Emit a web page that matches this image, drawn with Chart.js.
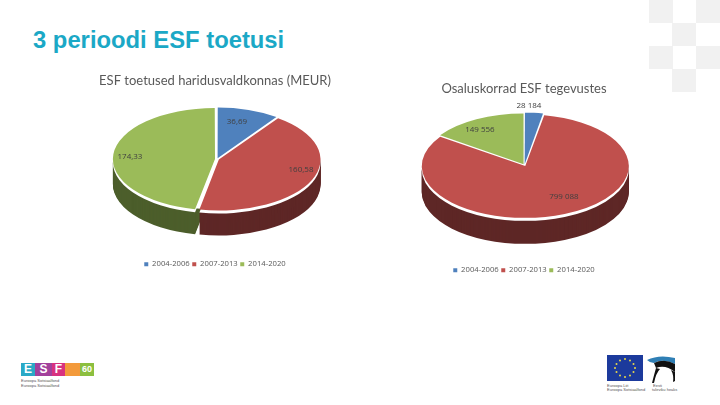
<!DOCTYPE html>
<html>
<head>
<meta charset="utf-8">
<script src="https://cdn.jsdelivr.net/npm/chart.js@4"></script>
<style>
html, body { margin: 0; padding: 0; background: #fff; overflow: hidden; }
#page { position: relative; width: 720px; height: 405px; overflow: hidden; }
#page div, #page canvas, #page svg { position: absolute; }
.sq { background: #f1f1f1; width: 24px; height: 23px; }
#heading { left: 33px; top: 26px; font: bold 23.8px "Liberation Sans", sans-serif; color: #1ba8c6; white-space: nowrap; }
.small { font: 4px "Liberation Sans", sans-serif; color: #555; white-space: nowrap; }
.bar { top: 363px; height: 13px; color: #fff; font: bold 12px/13px "Liberation Sans", sans-serif; text-align: center; }
</style>
</head>
<body>
<div id="page">
  <div class="sq" style="left:649px;top:0"></div>
  <div class="sq" style="left:696px;top:0"></div>
  <div class="sq" style="left:672px;top:23px"></div>
  <div class="sq" style="left:649px;top:46px"></div>
  <div class="sq" style="left:696px;top:46px"></div>
  <div class="sq" style="left:672px;top:69px"></div>
  <div id="heading">3 perioodi ESF toetusi</div>

  <canvas id="leftPie" style="left:80px;top:67px" width="270" height="217"></canvas>
  <canvas id="rightPie" style="left:389px;top:75px" width="270" height="215"></canvas>

  <div class="bar" style="left:21px;width:14px;background:#2aa9c6">E</div>
  <div class="bar" style="left:35px;width:17px;background:#a2409c">S</div>
  <div class="bar" style="left:52px;width:13px;background:#d8327f">F</div>
  <div class="bar" style="left:65px;width:15px;background:#f39a3b"></div>
  <div class="bar" style="left:80px;width:14px;background:#8cbf3f;font-size:9px">60</div>
  <div class="small" style="left:21px;top:378px">Euroopa Sotsiaalfond</div>
  <div class="small" style="left:21px;top:383px">Euroopa Sotsiaalfond</div>

  <svg style="left:607px;top:355px" width="70" height="30" viewBox="0 0 70 30">
    <rect x="0" y="0" width="36" height="26" fill="#1c3a9c"/>
    <g fill="#e8d84a">
      <circle cx="18" cy="4" r="1"/><circle cx="23" cy="5.5" r="1"/><circle cx="26.5" cy="9" r="1"/>
      <circle cx="28" cy="13" r="1"/><circle cx="26.5" cy="17" r="1"/><circle cx="23" cy="20.5" r="1"/>
      <circle cx="18" cy="22" r="1"/><circle cx="13" cy="20.5" r="1"/><circle cx="9.5" cy="17" r="1"/>
      <circle cx="8" cy="13" r="1"/><circle cx="9.5" cy="9" r="1"/><circle cx="13" cy="5.5" r="1"/>
    </g>
    <path d="M40 5 Q52 -1 68 3 L68 9 Q56 3 47 8 Q43 8 40 5Z" fill="#2f7fb5"/>
    <path d="M47 8 Q57 3 68 9 L68 17 Q58 9 49 13Z" fill="#111"/>
    <path d="M49 13 Q47 20 45 28 L47 28 Q49 18 53 14Z" fill="#111"/>
    <path d="M68 17 L68 26 L66 27 Q67 20 64 15Z" fill="#111"/>
  </svg>
  <div class="small" style="left:607px;top:383px">Euroopa Liit</div>
  <div class="small" style="left:607px;top:387px">Euroopa Sotsiaalfond</div>
  <div class="small" style="left:653px;top:383px">Eesti</div>
  <div class="small" style="left:652px;top:387px">tuleviku heaks</div>
</div>
<script>
var categories = ['2004-2006', '2007-2013', '2014-2020'];
var colors = ['#4f81bd', '#c0504d', '#9bbb59'];
var sideColors = ['#2c4a6e', '#5e2726', '#4c5e2b'];

var leftTitle = 'ESF toetused haridusvaldkonnas (MEUR)';
var leftValues = [36.69, 160.58, 174.33];
var leftLabels = ['36,69', '160,58', '174,33'];

var rightTitle = 'Osaluskorrad ESF tegevustes';
var rightValues = [28184, 799088, 149556];
var rightLabels = ['28 184', '799 088', '149 556'];

function drawArcs(ctx, arcs, cx, cy, squash, dy, fills) {
    ctx.save();
    ctx.translate(cx, cy + dy);
    ctx.scale(1, squash);
    ctx.translate(-arcs[0].x, -arcs[0].y);
    arcs.forEach(function (arc, i) {
        var bg = arc.options.backgroundColor;
        arc.options.backgroundColor = fills[i];
        arc.draw(ctx);
        arc.options.backgroundColor = bg;
    });
    ctx.restore();
}

// squashes the pie and draws the dark wall under it
var tiltPlugin = {
    id: 'tilt',
    beforeDatasetsDraw(chart, args, opts) {
        var ctx = chart.ctx;
        var arcs = chart.getDatasetMeta(0).data;
        var cx = arcs[0].x + opts.shiftX, cy = arcs[0].y - opts.lift;
        var white = ['#fff', '#fff', '#fff'];
        for (var d = opts.depth; d > opts.rim; d--) {
            drawArcs(ctx, arcs, cx, cy, opts.squash, d, sideColors);
        }
        drawArcs(ctx, arcs, cx, cy, opts.squash, opts.rim, white);
        // hides the back of the wall where it would show through the gaps
        var r = arcs[0].outerRadius;
        ctx.fillStyle = '#fff';
        ctx.beginPath();
        ctx.ellipse(cx, cy, r, r * opts.squash, 0, 0, Math.PI * 2);
        ctx.fill();
        drawArcs(ctx, arcs, cx, cy, opts.squash, 0, colors);
        return false;
    },
    beforeDatasetDraw() {
        return false;
    },
    afterDraw(chart, args, opts) {
        var ctx = chart.ctx;
        var arcs = chart.getDatasetMeta(0).data;
        ctx.save();
        ctx.font = '8px "Open Sans", sans-serif';
        ctx.fillStyle = '#404040';
        ctx.textAlign = 'center';
        ctx.textBaseline = 'middle';
        arcs.forEach(function (arc, i) {
            var a = (arc.startAngle + arc.endAngle) / 2;
            var x = arc.x + opts.shiftX + Math.cos(a) * arc.outerRadius * opts.labelPos[i][0];
            var y = arc.y - opts.lift + Math.sin(a) * arc.outerRadius * opts.squash * opts.labelPos[i][1];
            ctx.fillText(opts.labels[i], x, y);
        });
        ctx.restore();
    }
};

function makePie(id, title, values, labels, radius, tilt) {
    tilt.labels = labels;
    tilt.squash = 0.5;
    tilt.rim = 3;
    new Chart(document.getElementById(id), {
        type: 'pie',
        data: {
            labels: categories,
            datasets: [{
                data: values,
                backgroundColor: colors,
                borderWidth: 0,
                offset: 8,
                radius: radius
            }]
        },
        options: {
            responsive: false,
            animation: false,
            layout: { padding: { bottom: 6 } },
            plugins: {
                title: {
                    display: true,
                    text: title,
                    color: '#595959',
                    font: { family: 'Lato, sans-serif', size: 13, weight: 'normal' },
                    padding: { top: 6, bottom: 0 }
                },
                legend: {
                    position: 'bottom',
                    labels: {
                        color: '#595959',
                        font: { family: '"Open Sans", sans-serif', size: 7.7 },
                        boxWidth: 4,
                        boxHeight: 4,
                        padding: 2.5
                    }
                },
                tooltip: { enabled: false },
                tilt: tilt
            }
        },
        plugins: [tiltPlugin]
    });
}

makePie('leftPie', leftTitle, leftValues, leftLabels, 100.5, {
    depth: 25, lift: 14, shiftX: 2, labelPos: [[0.65, 0.79], [0.91, 0.55], [0.87, 0.6]]
});
makePie('rightPie', rightTitle, rightValues, rightLabels, 101.5, {
    depth: 26, lift: 15, shiftX: 0.5, labelPos: [[0.48, 1.18], [1.02, 0.665], [0.95, 0.78]]
});
</script>
</body>
</html>
